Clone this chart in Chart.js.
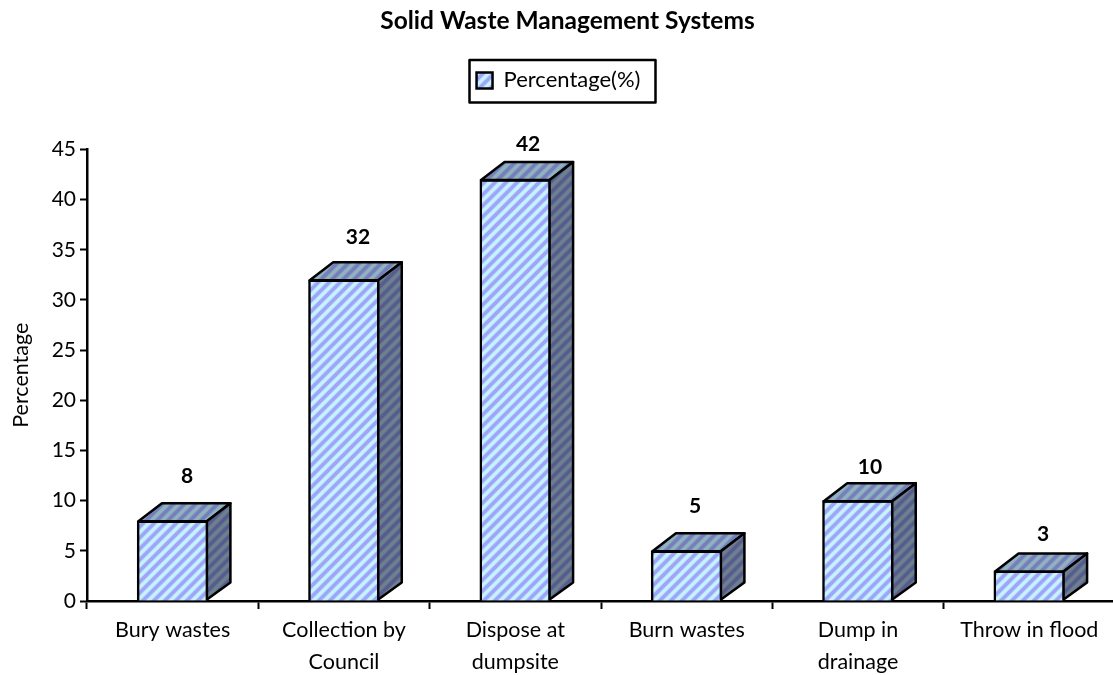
<!DOCTYPE html>
<html><head><meta charset="utf-8">
<style>html,body{margin:0;padding:0;background:#fff;overflow:hidden;width:1113px;height:675px}canvas{display:block}</style>
<script src="https://cdn.jsdelivr.net/npm/chart.js@4"></script>
</head><body><canvas id="c" width="1121" height="675"></canvas>
<script>
const categories = [['Bury wastes'], ['Collection by','Council'], ['Dispose at','dumpsite'], ['Burn wastes'], ['Dump in','drainage'], ['Throw in flood']];
const percentages = [8, 32, 42, 5, 10, 3];
const seriesName = 'Percentage(%)';
const chartTitle = 'Solid Waste Management Systems';
const yAxisTitle = 'Percentage';

const FONT = 'Lato, Carlito, sans-serif';
const labelOffsets = [[14.3,-26],[14,-24.6],[12.75,-17.3],[8.5,-27],[12,-15],[13.85,-18.5]];

function stripes(){
  const s = 11, t = document.createElement('canvas'); t.width = t.height = s;
  const g = t.getContext('2d'), im = g.createImageData(s,s);
  const A = [197,243,255], B = [158,165,248];
  for(let y=0;y<s;y++)for(let x=0;x<s;x++){
    let k = 0.5+0.75*Math.cos(2*Math.PI*(x+y)/s);
    k = Math.max(0,Math.min(1,k));
    for(let c=0;c<3;c++) im.data[(y*s+x)*4+c] = A[c]*k+B[c]*(1-k);
    im.data[(y*s+x)*4+3] = 255;
  }
  g.putImageData(im,0,0);
  return document.getElementById('c').getContext('2d').createPattern(t,'repeat');
}
const pattern = stripes();

const depth3d = {
  id:'depth3d',
  afterDatasetsDraw(chart){
    const ctx = chart.ctx, dx = 23.5, dy = -18, bw = 2.5;
    chart.getDatasetMeta(0).data.forEach((b,i)=>{
      const l = b.x-b.width/2+bw/2, r = b.x+b.width/2-bw/2, t = b.y+0.5, bt = b.base-1;
      const face = (pts,shade)=>{
        ctx.beginPath(); pts.forEach((p,k)=>k?ctx.lineTo(p[0],p[1]):ctx.moveTo(p[0],p[1])); ctx.closePath();
        ctx.fillStyle = pattern; ctx.fill();
        ctx.fillStyle = shade; ctx.fill();
        ctx.strokeStyle = '#000'; ctx.lineWidth = bw; ctx.lineJoin='round'; ctx.stroke();
      };
      face([[l,t],[l+dx,t+dy],[r+dx,t+dy],[r,t]],'rgba(35,45,60,0.32)');
      face([[r,t],[r+dx,t+dy],[r+dx,bt+dy+1],[r,bt]],'rgba(25,25,40,0.52)');
      const o = labelOffsets[i];
      ctx.fillStyle='#000'; ctx.font='bold 21px '+FONT; ctx.textAlign='center'; ctx.textBaseline='middle';
      ctx.fillText(String(percentages[i]), b.x+o[0], b.y+dy+o[1]);
    });
  }
};
const shiftHeader = {
  id:'shiftHeader',
  afterLayout(chart){
    const t = chart.titleBlock, g = chart.legend;
    t.left += 6; t.right += 6;
    g.left -= 3; g.right -= 3;
    g.top -= 48; g.bottom -= 48;
  },
  afterDraw(chart){
    const ctx = chart.ctx;
    ctx.strokeStyle='#000'; ctx.lineWidth=2.5;
    ctx.strokeRect(469.5,60,186,42.5);
  }
};

new Chart(document.getElementById('c'),{
  type:'bar',
  data:{labels:categories,datasets:[{label:seriesName,data:percentages,backgroundColor:pattern,borderColor:'#000',borderWidth:2.5,barThickness:71}]},
  plugins:[depth3d,shiftHeader],
  options:{
    responsive:false,animation:false,
    layout:{padding:{left:8,right:6,top:0,bottom:0}},
    plugins:{
      title:{display:true,text:chartTitle,color:'#000',font:{family:FONT,size:24.5,weight:'bold'},padding:{top:6,bottom:67}},
      legend:{display:true,position:'top',labels:{color:'#000',font:{family:FONT,size:22},boxWidth:16,boxHeight:16,padding:15}},
      tooltip:{enabled:false}
    },
    scales:{
      x:{grid:{offset:true,drawOnChartArea:false,drawTicks:true,tickLength:8,tickColor:'#000',tickWidth:2},
         border:{color:'#000',width:2.5},
         ticks:{color:'#000',font:{family:FONT,size:21.5,lineHeight:1.5},padding:5,maxRotation:0,autoSkip:false},
         afterFit(s){s.height=74}},
      y:{min:0,max:45,
         grid:{drawOnChartArea:false,tickLength:7,tickColor:'#000',tickWidth:2},
         border:{color:'#000',width:2.5},
         ticks:{stepSize:5,color:'#000',font:{family:FONT,size:21},padding:4},
         title:{display:true,text:yAxisTitle,color:'#000',font:{family:FONT,size:21.5},padding:{top:0,bottom:4}},
         afterFit(s){s.width=79}}
    }
  }
});
</script></body></html>
